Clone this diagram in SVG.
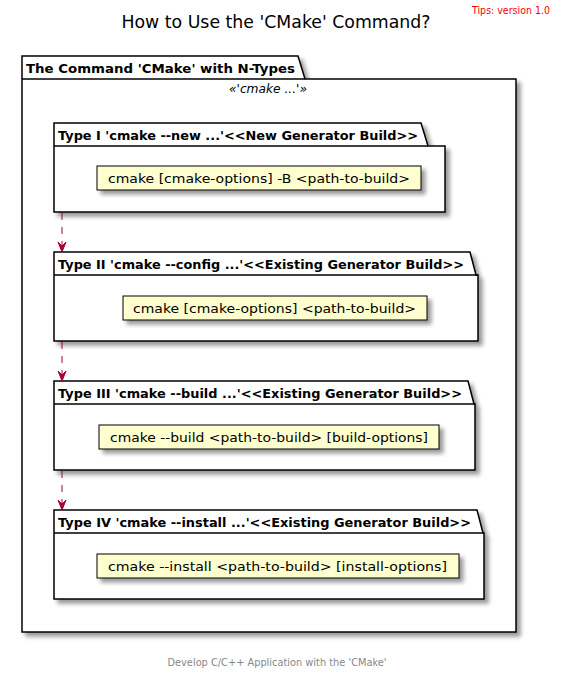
<svg xmlns="http://www.w3.org/2000/svg" width="561" height="680" viewBox="0 0 561 680">
<style>
.pkg{fill:#FFFFFF;stroke:#000000;stroke-width:1.5}
.note{fill:#FEFECE;stroke:#000000;stroke-width:1}
.tab{font-family:"DejaVu Sans","Liberation Sans",sans-serif;font-size:13px;font-weight:bold;fill:#000}
.nt{font-family:"DejaVu Sans","Liberation Sans",sans-serif;font-size:13px;fill:#000}
.conn{stroke:#A80036;stroke-width:1;fill:none;stroke-dasharray:7,7}
.head{fill:#A80036;stroke:#A80036;stroke-width:1}
</style>
<defs>
<filter id="sh" x="-0.2" y="-0.2" width="1.5" height="1.5">
<feGaussianBlur in="SourceAlpha" stdDeviation="2" result="b"/>
<feColorMatrix in="b" type="matrix" values="0 0 0 0 0 0 0 0 0 0 0 0 0 0 0 0 0 0 .4 0" result="b2"/>
<feOffset in="b2" dx="4" dy="4" result="b3"/>
<feBlend in="SourceGraphic" in2="b3" mode="normal"/>
</filter>
</defs>
<rect width="561" height="680" fill="#FFFFFF"/>
<text x="550" y="14" text-anchor="end" font-family="DejaVu Sans,Liberation Sans,sans-serif" font-size="11" fill="#FF0000" textLength="78" lengthAdjust="spacingAndGlyphs">Tips: version 1.0</text>
<text x="276" y="28" text-anchor="middle" font-family="DejaVu Sans,Liberation Sans,sans-serif" font-size="18" fill="#000" textLength="309" lengthAdjust="spacingAndGlyphs">How to Use the 'CMake' Command?</text>

<g id="outer">
<path class="pkg" filter="url(#sh)" d="M22,56 L298,56 L305,79 L516,79 L516,632 L22,632 Z"/>
<line x1="22" y1="79" x2="305" y2="79" stroke="#000" stroke-width="1.5"/>
<text class="tab" x="26" y="73" textLength="269" lengthAdjust="spacingAndGlyphs">The Command 'CMake' with N-Types</text>
<text x="268" y="93" text-anchor="middle" font-family="DejaVu Sans,Liberation Sans,sans-serif" font-size="12" font-style="italic" fill="#000" textLength="78" lengthAdjust="spacingAndGlyphs">«'cmake ...'»</text>
</g>

<g id="type1">
<path class="pkg" filter="url(#sh)" d="M54,123 L421,123 L428,146 L445,146 L445,212 L54,212 Z"/>
<line x1="54" y1="146" x2="428" y2="146" stroke="#000" stroke-width="1.5"/>
<text class="tab" x="58" y="140" textLength="360" lengthAdjust="spacingAndGlyphs">Type I 'cmake --new ...'&lt;&lt;New Generator Build&gt;&gt;</text>
<rect class="note" filter="url(#sh)" x="97" y="166" width="324" height="24"/>
<text class="nt" x="108" y="183" textLength="302" lengthAdjust="spacingAndGlyphs">cmake [cmake-options] -B &lt;path-to-build&gt;</text>
</g>

<g id="type2">
<path class="pkg" filter="url(#sh)" d="M54,252 L470,252 L476,275 L478,275 L478,341 L54,341 Z"/>
<line x1="54" y1="275" x2="478" y2="275" stroke="#000" stroke-width="1.5"/>
<text class="tab" x="58" y="269" textLength="406" lengthAdjust="spacingAndGlyphs">Type II 'cmake --config ...'&lt;&lt;Existing Generator Build&gt;&gt;</text>
<rect class="note" filter="url(#sh)" x="123" y="296" width="304" height="24"/>
<text class="nt" x="133" y="313" textLength="283" lengthAdjust="spacingAndGlyphs">cmake [cmake-options] &lt;path-to-build&gt;</text>
</g>

<g id="type3">
<path class="pkg" filter="url(#sh)" d="M54,381 L468,381 L474,404 L475,404 L475,470 L54,470 Z"/>
<line x1="54" y1="404" x2="475" y2="404" stroke="#000" stroke-width="1.5"/>
<text class="tab" x="58" y="398" textLength="404" lengthAdjust="spacingAndGlyphs">Type III 'cmake --build ...'&lt;&lt;Existing Generator Build&gt;&gt;</text>
<rect class="note" filter="url(#sh)" x="99" y="425" width="340" height="24"/>
<text class="nt" x="110" y="442" textLength="318" lengthAdjust="spacingAndGlyphs">cmake --build &lt;path-to-build&gt; [build-options]</text>
</g>

<g id="type4">
<path class="pkg" filter="url(#sh)" d="M54,510 L477,510 L483,533 L484,533 L484,599 L54,599 Z"/>
<line x1="54" y1="533" x2="484" y2="533" stroke="#000" stroke-width="1.5"/>
<text class="tab" x="58" y="527" textLength="413" lengthAdjust="spacingAndGlyphs">Type IV 'cmake --install ...'&lt;&lt;Existing Generator Build&gt;&gt;</text>
<rect class="note" filter="url(#sh)" x="97" y="554" width="362" height="24"/>
<text class="nt" x="108" y="571" textLength="339" lengthAdjust="spacingAndGlyphs">cmake --install &lt;path-to-build&gt; [install-options]</text>
</g>

<g id="connectors">
<line class="conn" x1="62" y1="213" x2="62" y2="250"/>
<polygon class="head" points="58,242 62,252 66,242 62,246"/>
<line class="conn" x1="62" y1="342" x2="62" y2="379"/>
<polygon class="head" points="58,371 62,381 66,371 62,375"/>
<line class="conn" x1="62" y1="471" x2="62" y2="508"/>
<polygon class="head" points="58,500 62,510 66,500 62,504"/>
</g>

<text x="277" y="666" text-anchor="middle" font-family="DejaVu Sans,Liberation Sans,sans-serif" font-size="10" fill="#888888" textLength="219" lengthAdjust="spacingAndGlyphs">Develop C/C++ Application with the 'CMake'</text>
</svg>
